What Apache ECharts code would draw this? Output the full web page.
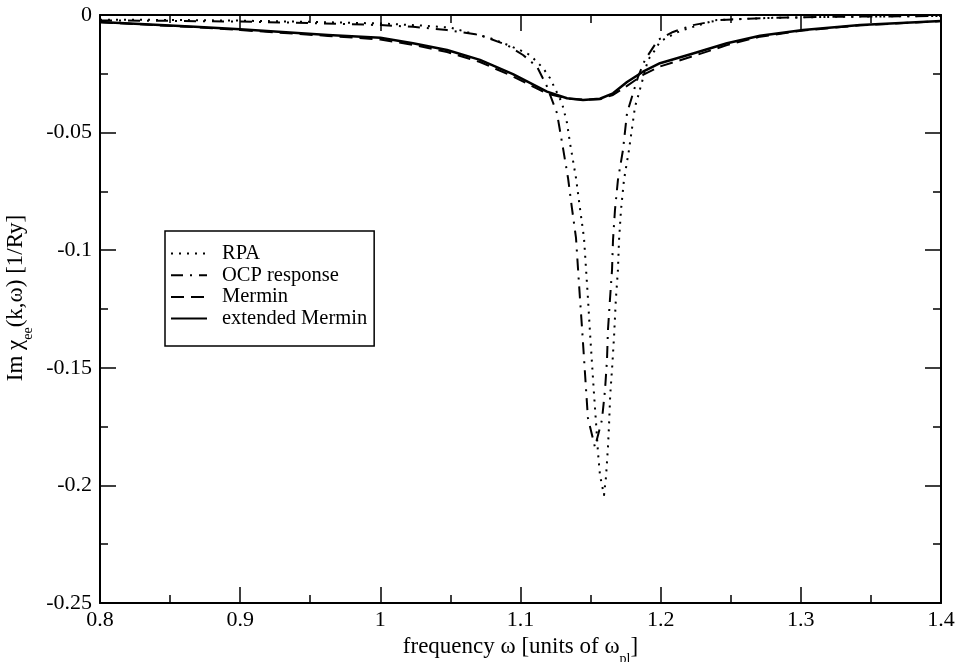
<!DOCTYPE html>
<html><head><meta charset="utf-8">
<script src="https://cdn.jsdelivr.net/npm/echarts@6/dist/echarts.min.js"></script>
<style>html,body{margin:0;padding:0;background:#fff}#c{width:958px;height:662px}</style>
</head><body><div id="c"></div>
<script>
const seriesNames = ['RPA', 'OCP response', 'Mermin', 'extended Mermin'];
const xTickLabels = ['0.8', '0.9', '1', '1.1', '1.2', '1.3', '1.4'];
const yTickLabels = ['-0.25', '-0.2', '-0.15', '-0.1', '-0.05', '0'];

const rpa = [
  [0.80,-0.0020],[0.85,-0.0021],[0.90,-0.0024],[0.95,-0.0029],[1.00,-0.0036],[1.03,-0.0045],
  [1.05,-0.0054],[1.0782,-0.0098],[1.0875,-0.0119],[1.0996,-0.0149],[1.1068,-0.0170],
  [1.1160,-0.0225],[1.1210,-0.0268],[1.1296,-0.0374],[1.1332,-0.0459],[1.1353,-0.0544],
  [1.1396,-0.0693],[1.1424,-0.0821],[1.1453,-0.0948],[1.1467,-0.1076],[1.1481,-0.1203],
  [1.1496,-0.1352],[1.1510,-0.1480],[1.1524,-0.1607],[1.1539,-0.1735],[1.1553,-0.1862],
  [1.1567,-0.1956],[1.1581,-0.1998],[1.1596,-0.2041],[1.1610,-0.1964],[1.1624,-0.1837],
  [1.1631,-0.1752],[1.1640,-0.1616],[1.1655,-0.1488],[1.1668,-0.1360],[1.1680,-0.1212],
  [1.1695,-0.1084],[1.1703,-0.0957],[1.1717,-0.0829],[1.1738,-0.0702],[1.1774,-0.0574],
  [1.1817,-0.0390],[1.1838,-0.0347],[1.1910,-0.0191],[1.1960,-0.0149],[1.1995,-0.0113],
  [1.2102,-0.0078],[1.2159,-0.0064],[1.2316,-0.0035],[1.2402,-0.0021],[1.28,-0.0012],
  [1.32,-0.0008],[1.36,-0.0006],[1.40,-0.0004]
];
const ocp = [
  [0.80,-0.0023],[0.85,-0.0025],[0.90,-0.0028],[0.95,-0.0034],[1.00,-0.0043],[1.0233,-0.0050],
  [1.0476,-0.0064],[1.0711,-0.0085],[1.0904,-0.0128],[1.1018,-0.0170],[1.1118,-0.0220],
  [1.1189,-0.0304],[1.1260,-0.0417],[1.1303,-0.0565],[1.1339,-0.0693],[1.1367,-0.0821],
  [1.1396,-0.0948],[1.1410,-0.1076],[1.1424,-0.1203],[1.1439,-0.1331],[1.1453,-0.1458],
  [1.1467,-0.1586],[1.1481,-0.1713],[1.1531,-0.1837],[1.1581,-0.1722],[1.1603,-0.1594],
  [1.1617,-0.1467],[1.1624,-0.1339],[1.1638,-0.1212],[1.1653,-0.1084],[1.1660,-0.0957],
  [1.1674,-0.0829],[1.1695,-0.0702],[1.1731,-0.0574],[1.1760,-0.0417],[1.1838,-0.0264],
  [1.1888,-0.0191],[1.1981,-0.0106],[1.2088,-0.0072],[1.2231,-0.0043],[1.2423,-0.0021],
  [1.28,-0.0012],[1.32,-0.0008],[1.36,-0.0006],[1.40,-0.0004]
];
const mermin = [
  [0.80,-0.0031],[0.8678,-0.0052],[0.90,-0.0064],[0.9627,-0.0089],[1.00,-0.0104],
  [1.0233,-0.0127],[1.0476,-0.0157],[1.0711,-0.0200],[1.0946,-0.0261],[1.1189,-0.0334],
  [1.1332,-0.0355],[1.1446,-0.0360],[1.1567,-0.0358],[1.1660,-0.0340],[1.1760,-0.0301],
  [1.1874,-0.0255],[1.1995,-0.0219],[1.2231,-0.0175],[1.2473,-0.0128],[1.2709,-0.0092],
  [1.3016,-0.0066],[1.3423,-0.0044],[1.40,-0.0026]
];
const extMermin = [
  [0.80,-0.0030],[0.8678,-0.0050],[0.90,-0.0061],[0.9627,-0.0085],[1.00,-0.0097],
  [1.0233,-0.0120],[1.0476,-0.0149],[1.0711,-0.0191],[1.0946,-0.0251],[1.1189,-0.0326],
  [1.1332,-0.0354],[1.1446,-0.0361],[1.1567,-0.0356],[1.1660,-0.0333],[1.1760,-0.0285],
  [1.1874,-0.0241],[1.1995,-0.0205],[1.2231,-0.0164],[1.2473,-0.0120],[1.2709,-0.0088],
  [1.3016,-0.0064],[1.3423,-0.0043],[1.40,-0.0026]
];

const FONT = "'Liberation Serif', 'Times New Roman', serif";
const X_MIN = 0.8, X_MAX = 1.4, X_INT = 0.1;
const Y_MIN = -0.25, Y_MAX = 0, Y_INT = 0.05;

const chart = echarts.init(document.getElementById('c'), null, {renderer: 'canvas'});

function axisCommon() {
  return {
    axisLine: {show: true, onZero: false, lineStyle: {color: '#000', width: 2}},
    axisTick: {show: true, inside: true, length: 16, lineStyle: {color: '#000', width: 1.5}},
    minorTick: {show: true, splitNumber: 2, length: 8, lineStyle: {color: '#000', width: 1.5}},
    splitLine: {show: false},
    minorSplitLine: {show: false}
  };
}

const xBase = Object.assign({type: 'value', min: X_MIN, max: X_MAX, interval: X_INT}, axisCommon());
const yBase = Object.assign({type: 'value', min: Y_MIN, max: Y_MAX, interval: Y_INT}, axisCommon());

function lineSeries(name, data, type, width) {
  return {
    name: name, type: 'line', data: data, symbol: 'none', smooth: false,
    xAxisIndex: 0, yAxisIndex: 0,
    lineStyle: {color: '#000', width: width, type: type, cap: 'butt', join: 'round'},
    itemStyle: {color: '#000'},
    animation: false
  };
}

chart.setOption({
  animation: false,
  backgroundColor: '#fff',
  grid: {left: 100, right: 17, top: 15, bottom: 59, containLabel: false, outerBoundsMode: 'none'},
  xAxis: [
    Object.assign({}, xBase, {
      position: 'bottom',
      name: '{t|frequency ω [units of ω}{s|pl}{t|]}',
      nameLocation: 'middle', nameGap: 30,
      nameTextStyle: {rich: {
        t: {fontFamily: FONT, fontSize: 23, color: '#000', lineHeight: 26, verticalAlign: 'middle'},
        s: {fontFamily: FONT, fontSize: 14, color: '#000', lineHeight: 14, verticalAlign: 'bottom', padding: [0,0,-6,0]}
      }},
      axisLabel: {show: true, margin: 6, color: '#000', fontFamily: FONT, fontSize: 22,
        formatter: v => xTickLabels[Math.round((v - X_MIN) / X_INT)] || ''}
    }),
    Object.assign({}, xBase, {position: 'top', axisLabel: {show: false}})
  ],
  yAxis: [
    Object.assign({}, yBase, {
      position: 'left',
      name: '{t|Im χ}{s|ee}{t|(k,ω) [1/Ry]}',
      nameLocation: 'middle', nameGap: 58, nameRotate: 90,
      nameTextStyle: {padding: [0, 0, 0, 22], rich: {
        t: {fontFamily: FONT, fontSize: 23, color: '#000', lineHeight: 26, verticalAlign: 'middle'},
        s: {fontFamily: FONT, fontSize: 14, color: '#000', lineHeight: 14, verticalAlign: 'bottom', padding: [0,0,-6,0]}
      }},
      axisLabel: {show: true, margin: 8, color: '#000', fontFamily: FONT, fontSize: 22,
        formatter: v => yTickLabels[Math.round((v - Y_MIN) / Y_INT)] || ''}
    }),
    Object.assign({}, yBase, {position: 'right', axisLabel: {show: false}})
  ],
  legend: {
    show: true, orient: 'vertical', left: 165, top: 231,
    data: seriesNames,
    itemWidth: 36, itemHeight: 14, itemGap: 0.7,
    padding: [12, 7, 17, 5],
    backgroundColor: '#fff', borderColor: '#000', borderWidth: 1.5, borderRadius: 0,
    textStyle: {fontFamily: FONT, fontSize: 20.5, lineHeight: 20, color: '#000', padding: [0, 0, 0, 10]},
    selectedMode: false,
    itemStyle: {opacity: 0}
  },
  series: [
    lineSeries('RPA', rpa, [2, 6], 2),
    lineSeries('OCP response', ocp, [12, 7, 2, 7], 2),
    lineSeries('Mermin', mermin, [13, 7], 2),
    lineSeries('extended Mermin', extMermin, 'solid', 2.5)
  ]
});
</script>
</body></html>
